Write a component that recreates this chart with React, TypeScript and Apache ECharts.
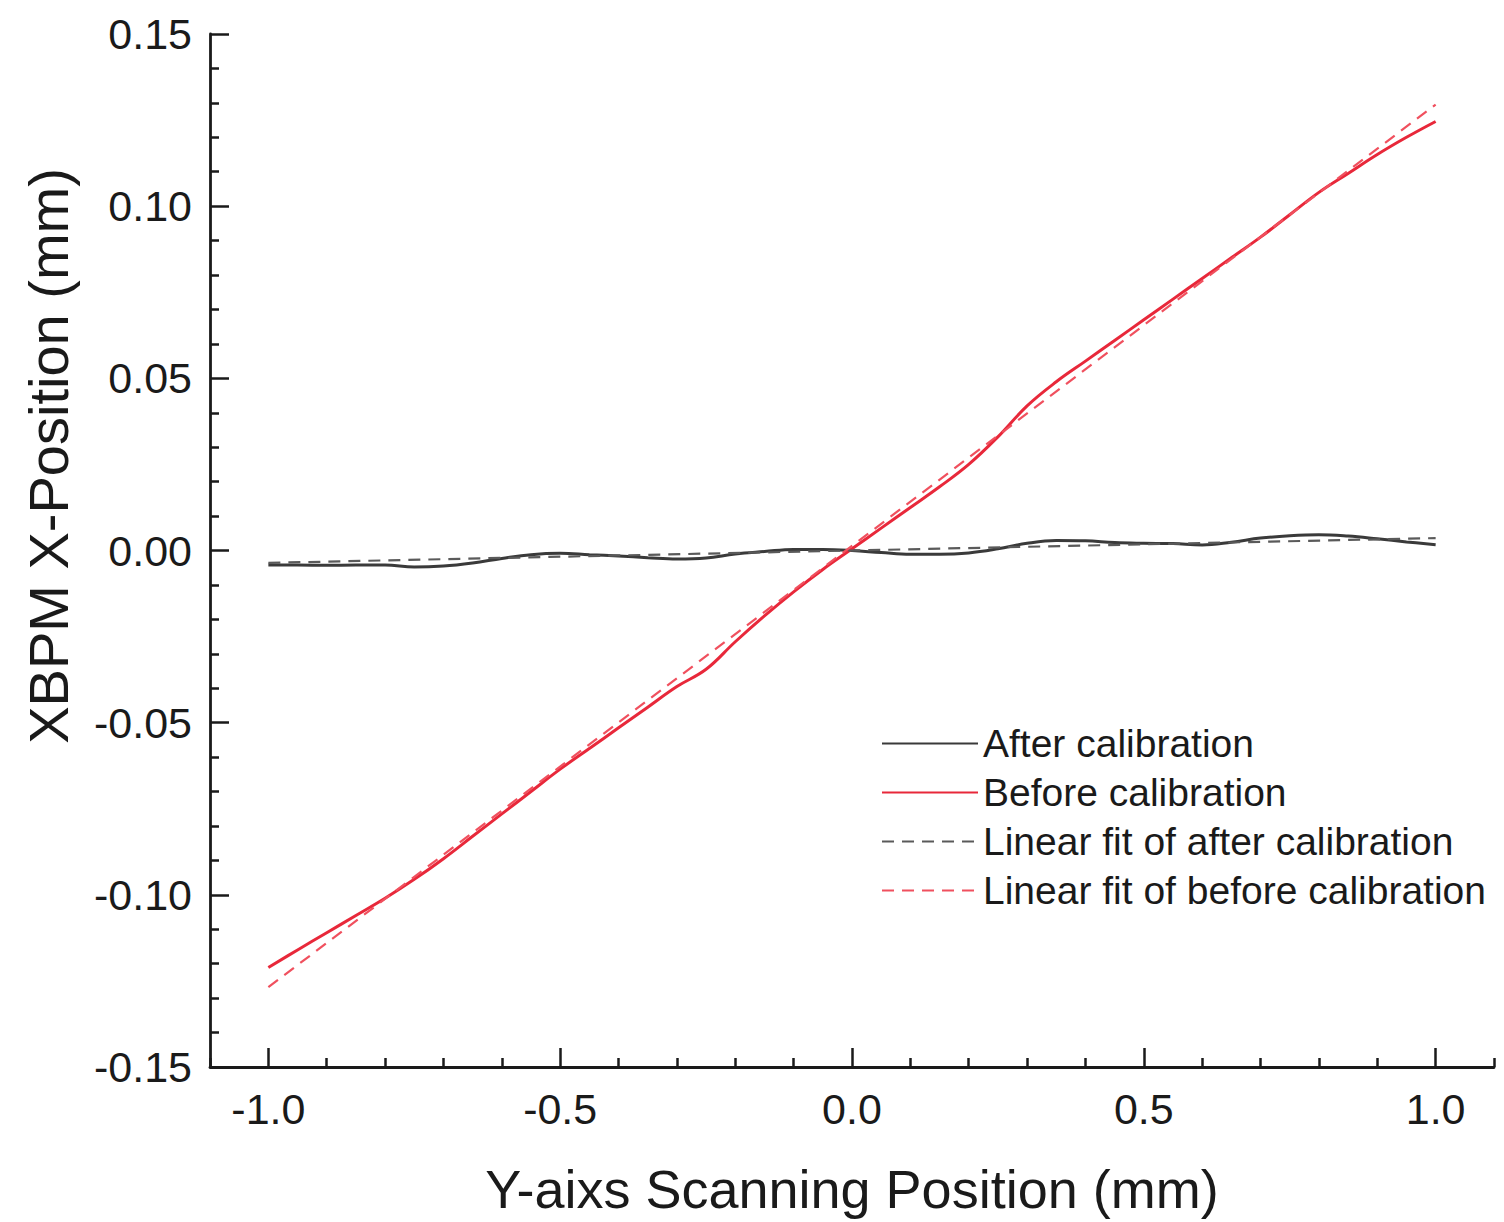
import { useEffect, useRef } from "react";
import * as echarts from "echarts";

// Y-axis scanning position (mm)
const positions = [
  -1.0, -0.95, -0.9, -0.85, -0.8, -0.75, -0.7, -0.65, -0.6, -0.55, -0.5,
  -0.45, -0.4, -0.35, -0.3, -0.25, -0.2, -0.15, -0.1, -0.05, 0.0,
  0.05, 0.1, 0.15, 0.2, 0.25, 0.3, 0.35, 0.4, 0.45, 0.5,
  0.55, 0.6, 0.65, 0.7, 0.75, 0.8, 0.85, 0.9, 0.95, 1.0,
];

// XBPM X-position after calibration (mm)
const afterCalibration = [
  -0.0042, -0.0042, -0.0043, -0.0042, -0.0042, -0.0048, -0.0045, -0.0036, -0.0023, -0.0012, -0.0008,
  -0.0012, -0.0016, -0.0021, -0.0025, -0.0022, -0.001, -0.0003, 0.0003, 0.0003, 0.0,
  -0.0006, -0.0011, -0.0011, -0.0007, 0.0005, 0.0021, 0.0029, 0.0028, 0.0023, 0.0021,
  0.002, 0.0016, 0.0024, 0.0036, 0.0043, 0.0046, 0.0042, 0.0034, 0.0025, 0.0017,
];

// XBPM X-position before calibration (mm)
const beforeCalibration = [
  -0.1211, -0.116, -0.111, -0.106, -0.101, -0.0955, -0.0895, -0.083, -0.0765, -0.07, -0.0635,
  -0.0575, -0.0515, -0.0455, -0.0395, -0.0345, -0.0265, -0.019, -0.012, -0.0055, 0.0005,
  0.0065, 0.0125, 0.0185, 0.025, 0.033, 0.042, 0.049, 0.055, 0.061, 0.067,
  0.073, 0.079, 0.085, 0.091, 0.0975, 0.104, 0.1095, 0.115, 0.12, 0.1246,
];

// Linear fits (end points)
const fitPositions = [-1.0, 1.0];
const fitAfter = [-0.0036, 0.0036];
const fitBefore = [-0.1268, 0.1295];

const seriesNames = [
  "After calibration",
  "Before calibration",
  "Linear fit of after calibration",
  "Linear fit of before calibration",
];

const xMajorTicks = [-1.0, -0.5, 0.0, 0.5, 1.0];
const xMinorTicks = [
  -1.1, -0.9, -0.8, -0.7, -0.6, -0.4, -0.3, -0.2, -0.1,
  0.1, 0.2, 0.3, 0.4, 0.6, 0.7, 0.8, 0.9, 1.1,
];

const xTitle = "Y-aixs Scanning Position (mm)";
const yTitle = "XBPM X-Position (mm)";

const FONT = "'Liberation Sans', Arial, Helvetica, sans-serif";
const INK = "#1a1a1a";

function pairs(xs: number[], ys: number[]) {
  return xs.map((x, i) => [x, ys[i]]);
}

export default function App() {
  const ref = useRef<HTMLDivElement>(null);

  useEffect(() => {
    if (!ref.current) return;
    const chart = echarts.init(ref.current, undefined, { renderer: "svg" });

    const option: any = {
      animation: false,
      backgroundColor: "#ffffff",
      textStyle: { fontFamily: FONT },
      grid: { left: 210, right: 10, top: 34, bottom: 155, containLabel: false },
      legend: {
        orient: "vertical",
        left: 876,
        top: 717,
        itemWidth: 96,
        itemHeight: 14,
        itemGap: 6,
        data: seriesNames,
        itemStyle: { opacity: 0 },
        textStyle: { fontSize: 39, color: INK, fontFamily: FONT, lineHeight: 43 },
      },
      xAxis: [
        {
          type: "value",
          min: -1.1,
          max: 1.1,
          position: "bottom",
          axisLine: { show: true, onZero: false, lineStyle: { color: INK, width: 2.8 } },
          axisTick: {
            show: true,
            inside: true,
            length: 9,
            customValues: xMinorTicks,
            lineStyle: { color: INK, width: 2.5 },
          },
          axisLabel: {
            show: true,
            customValues: xMajorTicks,
            margin: 20,
            fontSize: 43,
            color: INK,
            fontFamily: FONT,
            formatter: (v: number) => (Math.abs(v) < 1e-9 ? "0.0" : v.toFixed(1)),
          },
          splitLine: { show: false },
          name: xTitle,
          nameLocation: "middle",
          nameGap: 95,
          nameTextStyle: { fontSize: 54, color: INK, fontFamily: FONT },
        },
        {
          type: "value",
          min: -1.1,
          max: 1.1,
          position: "bottom",
          axisLine: { show: false, onZero: false },
          axisTick: {
            show: true,
            inside: true,
            length: 19,
            customValues: xMajorTicks,
            lineStyle: { color: INK, width: 2.5 },
          },
          axisLabel: { show: false },
          splitLine: { show: false },
        },
      ],
      yAxis: {
        type: "value",
        min: -0.15,
        max: 0.15,
        interval: 0.05,
        axisLine: { show: true, onZero: false, lineStyle: { color: INK, width: 2.8 } },
        axisTick: { show: true, inside: true, length: 19, lineStyle: { color: INK, width: 2.5 } },
        minorTick: { show: true, splitNumber: 5, length: 9, lineStyle: { color: INK, width: 2.5 } },
        axisLabel: {
          margin: 18,
          fontSize: 43,
          color: INK,
          fontFamily: FONT,
          formatter: (v: number) => (Math.abs(v) < 1e-9 ? "0.00" : v.toFixed(2)),
        },
        splitLine: { show: false },
      },
      graphic: [
        {
          type: "text",
          x: 48,
          y: 456,
          rotation: Math.PI / 2,
          style: {
            text: yTitle,
            fontSize: 56,
            fontFamily: FONT,
            fill: INK,
            textAlign: "center",
            textVerticalAlign: "middle",
          },
        },
      ],
      series: [
        {
          name: seriesNames[0],
          type: "line",
          xAxisIndex: 0,
          data: pairs(positions, afterCalibration),
          symbol: "none",
          smooth: 0.4,
          lineStyle: { color: "#3a3a3a", width: 3 },
          itemStyle: { color: "#3a3a3a", opacity: 0 },
          z: 2,
        },
        {
          name: seriesNames[1],
          type: "line",
          xAxisIndex: 0,
          data: pairs(positions, beforeCalibration),
          symbol: "none",
          smooth: 0.4,
          lineStyle: { color: "#e8283a", width: 3 },
          itemStyle: { color: "#e8283a", opacity: 0 },
          z: 3,
        },
        {
          name: seriesNames[2],
          type: "line",
          xAxisIndex: 0,
          data: pairs(fitPositions, fitAfter),
          symbol: "none",
          lineStyle: { color: "#5a5a5a", width: 2.2, type: [12, 8] },
          itemStyle: { color: "#5a5a5a", opacity: 0 },
          z: 4,
        },
        {
          name: seriesNames[3],
          type: "line",
          xAxisIndex: 0,
          data: pairs(fitPositions, fitBefore),
          symbol: "none",
          lineStyle: { color: "#f0505e", width: 2.2, type: [12, 8] },
          itemStyle: { color: "#f0505e", opacity: 0 },
          z: 4,
        },
      ],
    };

    chart.setOption(option);
    return () => chart.dispose();
  }, []);

  return (
    <div
      ref={ref}
      style={{ position: "fixed", left: 0, top: 0, width: 1504, height: 1222, background: "#fff" }}
    />
  );
}
